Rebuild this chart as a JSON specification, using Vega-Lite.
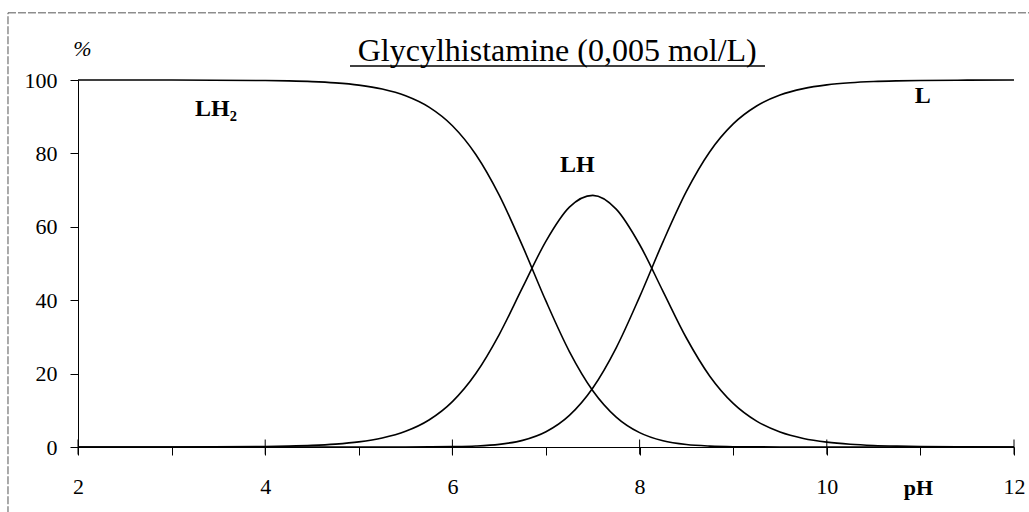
{
  "$schema": "https://vega.github.io/schema/vega-lite/v6.json",
  "width": 936,
  "height": 367,
  "autosize": {"type": "none"},
  "padding": {"left": 78, "top": 80, "right": 15, "bottom": 65},
  "background": "white",
  "config": {"view": {"stroke": null}, "font": "Liberation Serif"},
  "layer": [
    {
      "data": {"values": [{}]},
      "mark": {"type": "rect", "fill": "white", "fillOpacity": 0, "stroke": "#555", "strokeWidth": 1, "strokeDash": [8, 2]},
      "encoding": {
        "x": {"datum": 1.252, "type": "quantitative"},
        "x2": {"datum": 12.45},
        "y": {"datum": 118.3, "type": "quantitative"},
        "y2": {"datum": -20}
      }
    },
    {
      "data": {"values": [
        {"pH": 2, "s": "LH2", "v": 100}, {"pH": 3, "s": "LH2", "v": 99.99}, {"pH": 4, "s": "LH2", "v": 99.86},
        {"pH": 4.25, "s": "LH2", "v": 99.75}, {"pH": 4.5, "s": "LH2", "v": 99.56}, {"pH": 4.75, "s": "LH2", "v": 99.21},
        {"pH": 5, "s": "LH2", "v": 98.61}, {"pH": 5.25, "s": "LH2", "v": 97.55}, {"pH": 5.5, "s": "LH2", "v": 95.71},
        {"pH": 5.75, "s": "LH2", "v": 92.61}, {"pH": 6, "s": "LH2", "v": 87.54}, {"pH": 6.25, "s": "LH2", "v": 79.71},
        {"pH": 6.5, "s": "LH2", "v": 68.63}, {"pH": 6.75, "s": "LH2", "v": 54.72}, {"pH": 7, "s": "LH2", "v": 39.73},
        {"pH": 7.25, "s": "LH2", "v": 26.02}, {"pH": 7.5, "s": "LH2", "v": 15.35}, {"pH": 7.75, "s": "LH2", "v": 8.16},
        {"pH": 8, "s": "LH2", "v": 3.91}, {"pH": 8.25, "s": "LH2", "v": 1.69}, {"pH": 8.5, "s": "LH2", "v": 0.66},
        {"pH": 8.75, "s": "LH2", "v": 0.24}, {"pH": 9, "s": "LH2", "v": 0.08}, {"pH": 9.5, "s": "LH2", "v": 0.01},
        {"pH": 10, "s": "LH2", "v": 0}, {"pH": 11, "s": "LH2", "v": 0}, {"pH": 12, "s": "LH2", "v": 0},

        {"pH": 2, "s": "LH", "v": 0}, {"pH": 3, "s": "LH", "v": 0.01}, {"pH": 4, "s": "LH", "v": 0.14},
        {"pH": 4.25, "s": "LH", "v": 0.25}, {"pH": 4.5, "s": "LH", "v": 0.44}, {"pH": 4.75, "s": "LH", "v": 0.79},
        {"pH": 5, "s": "LH", "v": 1.39}, {"pH": 5.25, "s": "LH", "v": 2.45}, {"pH": 5.5, "s": "LH", "v": 4.28},
        {"pH": 5.75, "s": "LH", "v": 7.36}, {"pH": 6, "s": "LH", "v": 12.37}, {"pH": 6.25, "s": "LH", "v": 20.02},
        {"pH": 6.5, "s": "LH", "v": 30.65}, {"pH": 6.75, "s": "LH", "v": 43.47}, {"pH": 7, "s": "LH", "v": 56.11},
        {"pH": 7.25, "s": "LH", "v": 65.36}, {"pH": 7.5, "s": "LH", "v": 68.57}, {"pH": 7.75, "s": "LH", "v": 64.82},
        {"pH": 8, "s": "LH", "v": 55.18}, {"pH": 8.25, "s": "LH", "v": 42.41}, {"pH": 8.5, "s": "LH", "v": 29.7},
        {"pH": 8.75, "s": "LH", "v": 19.3}, {"pH": 9, "s": "LH", "v": 11.88}, {"pH": 9.25, "s": "LH", "v": 7.05},
        {"pH": 9.5, "s": "LH", "v": 4.09}, {"pH": 9.75, "s": "LH", "v": 2.34}, {"pH": 10, "s": "LH", "v": 1.33},
        {"pH": 10.25, "s": "LH", "v": 0.75}, {"pH": 10.5, "s": "LH", "v": 0.42}, {"pH": 10.75, "s": "LH", "v": 0.24},
        {"pH": 11, "s": "LH", "v": 0.13}, {"pH": 11.5, "s": "LH", "v": 0.04}, {"pH": 12, "s": "LH", "v": 0.01},

        {"pH": 2, "s": "L", "v": 0}, {"pH": 4, "s": "L", "v": 0}, {"pH": 5, "s": "L", "v": 0},
        {"pH": 5.5, "s": "L", "v": 0.01}, {"pH": 5.75, "s": "L", "v": 0.03}, {"pH": 6, "s": "L", "v": 0.09},
        {"pH": 6.25, "s": "L", "v": 0.26}, {"pH": 6.5, "s": "L", "v": 0.72}, {"pH": 6.75, "s": "L", "v": 1.81},
        {"pH": 7, "s": "L", "v": 4.16}, {"pH": 7.25, "s": "L", "v": 8.62}, {"pH": 7.5, "s": "L", "v": 16.08},
        {"pH": 7.75, "s": "L", "v": 27.02}, {"pH": 8, "s": "L", "v": 40.91}, {"pH": 8.25, "s": "L", "v": 55.9},
        {"pH": 8.5, "s": "L", "v": 69.63}, {"pH": 8.75, "s": "L", "v": 80.46}, {"pH": 9, "s": "L", "v": 88.04},
        {"pH": 9.25, "s": "L", "v": 92.92}, {"pH": 9.5, "s": "L", "v": 95.9}, {"pH": 9.75, "s": "L", "v": 97.65},
        {"pH": 10, "s": "L", "v": 98.67}, {"pH": 10.25, "s": "L", "v": 99.25}, {"pH": 10.5, "s": "L", "v": 99.58},
        {"pH": 10.75, "s": "L", "v": 99.76}, {"pH": 11, "s": "L", "v": 99.87}, {"pH": 11.5, "s": "L", "v": 99.96},
        {"pH": 12, "s": "L", "v": 99.99}
      ]},
      "mark": {"type": "line", "color": "black", "strokeWidth": 1.6, "interpolate": "monotone"},
      "encoding": {
        "x": {
          "field": "pH", "type": "quantitative",
          "scale": {"domain": [2, 12], "nice": false, "zero": false},
          "axis": {
            "values": [2, 3, 4, 5, 6, 7, 8, 9, 10, 11, 12],
            "labelExpr": "datum.value % 2 == 0 ? format(datum.value, 'd') : ''",
            "grid": false, "tickSize": 8, "labelPadding": 21, "labelFlush": false, "labelOverlap": false,
            "labelFont": "Liberation Serif", "labelFontSize": 22, "labelColor": "black",
            "tickColor": "black", "domainColor": "black", "domainWidth": 1, "tickWidth": 1,
            "title": "pH", "titleFont": "Liberation Serif", "titleFontSize": 22, "titleFontWeight": "bold",
            "titleColor": "black", "titleX": 840, "titleY": 47, "titleAlign": "center", "titleBaseline": "alphabetic"
          }
        },
        "y": {
          "field": "v", "type": "quantitative",
          "scale": {"domain": [0, 100], "nice": false},
          "axis": {
            "values": [0, 20, 40, 60, 80, 100],
            "grid": false, "tickSize": 8, "labelPadding": 13,
            "labelFont": "Liberation Serif", "labelFontSize": 22, "labelColor": "black",
            "tickColor": "black", "domainColor": "black", "domainWidth": 1, "tickWidth": 1,
            "title": "%", "titleFont": "Liberation Serif", "titleFontSize": 22, "titleFontStyle": "italic",
            "titleFontWeight": "normal", "titleColor": "black", "titleAngle": 0,
            "titleX": 4, "titleY": -32, "titleAlign": "center", "titleBaseline": "middle"
          }
        },
        "detail": {"field": "s", "type": "nominal"}
      }
    },
    {
      "data": {"values": [{"pH": 2}, {"pH": 4}, {"pH": 6}, {"pH": 8}, {"pH": 10}, {"pH": 12}]},
      "mark": {"type": "tick", "orient": "vertical", "size": 15, "thickness": 1, "color": "black", "opacity": 1},
      "encoding": {
        "x": {"field": "pH", "type": "quantitative"},
        "y": {"datum": 0, "type": "quantitative"}
      }
    },
    {
      "data": {"values": [
        {"label": "LH₂", "pH": 3.25, "v": 90.2},
        {"label": "LH", "pH": 7.15, "v": 74.9},
        {"label": "L", "pH": 10.94, "v": 93.7}
      ]},
      "mark": {"type": "text", "font": "Liberation Serif", "fontSize": 24, "fontWeight": "bold", "color": "black", "align": "left", "baseline": "alphabetic"},
      "encoding": {
        "x": {"field": "pH", "type": "quantitative"},
        "y": {"field": "v", "type": "quantitative"},
        "text": {"field": "label"}
      }
    },
    {
      "data": {"values": [{}]},
      "mark": {"type": "text", "text": "Glycylhistamine (0,005 mol/L)", "font": "Liberation Serif", "fontSize": 32, "color": "black", "align": "center", "baseline": "alphabetic"},
      "encoding": {
        "x": {"datum": 7.12, "type": "quantitative"},
        "y": {"datum": 105.2, "type": "quantitative"}
      }
    },
    {
      "data": {"values": [{}]},
      "mark": {"type": "rule", "color": "black", "strokeWidth": 1.5},
      "encoding": {
        "x": {"datum": 4.906, "type": "quantitative"},
        "x2": {"datum": 9.34},
        "y": {"datum": 103.8, "type": "quantitative"}
      }
    }
  ]
}
